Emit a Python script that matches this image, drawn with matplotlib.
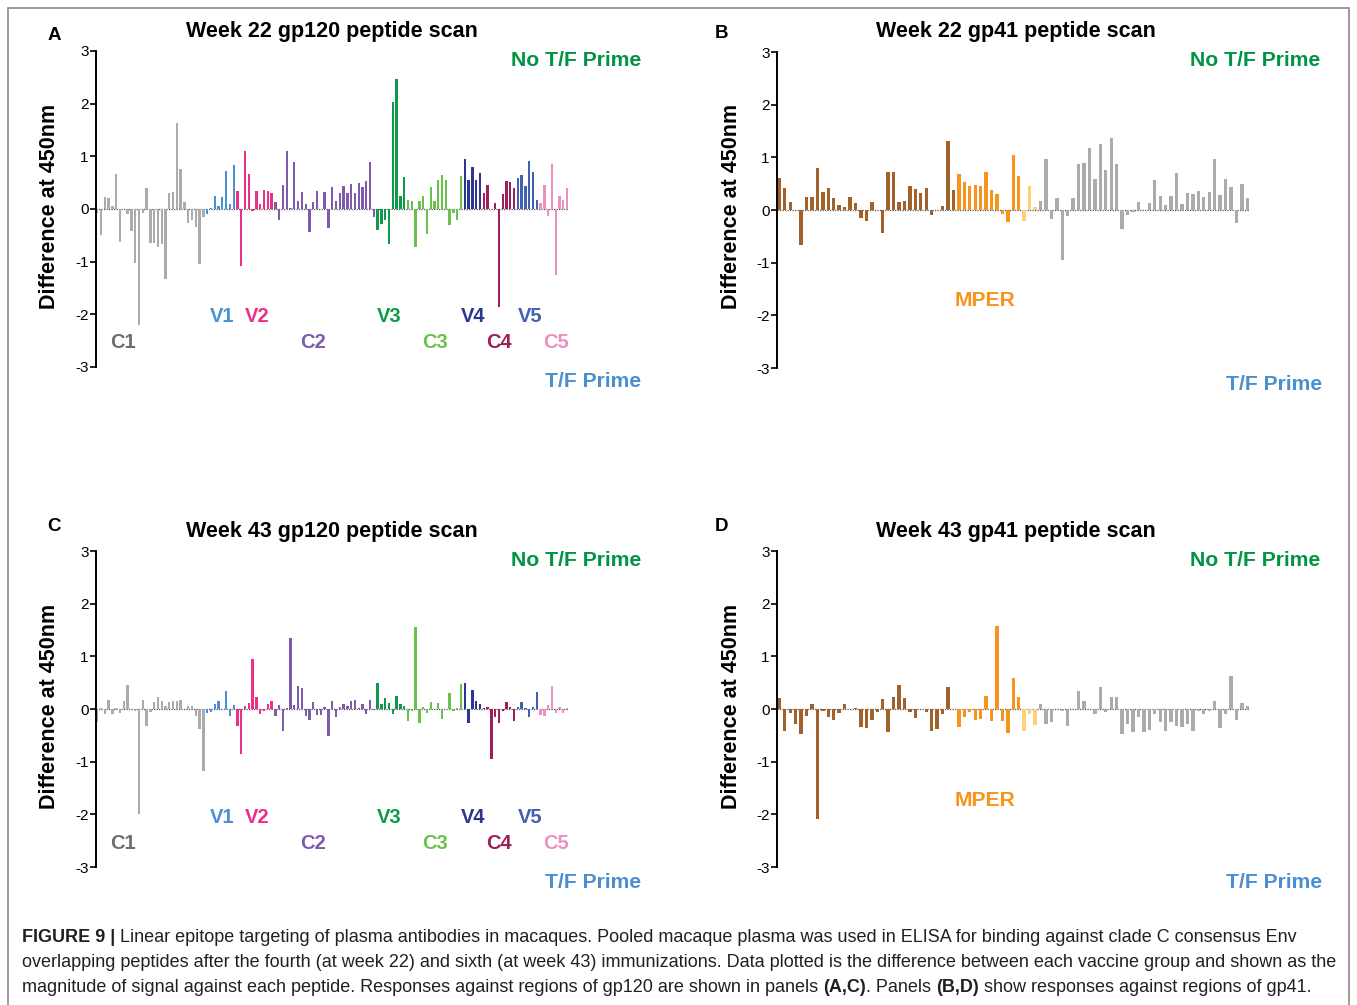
import matplotlib
matplotlib.use("Agg")
import matplotlib.pyplot as plt
from matplotlib.patches import Rectangle

plt.rcParams['font.family'] = ['Liberation Sans', 'DejaVu Sans']
plt.rcParams['axes.unicode_minus'] = False

W, H = 1357, 1005

# ---- data ------------------------------------------------------------------
gp120_regions = ["C1", "V1", "V2", "C2", "V3", "C3", "V4", "C4", "V5", "C5"]
gp120_sizes = [29, 8, 10, 27, 8, 15, 5, 9, 6, 8]
gp120_colors = ["#ababab", "#4a90d9", "#ec2f8b", "#7f5aae", "#0e9a48",
                "#6ac14b", "#2c3590", "#9e1f5a", "#4060b0", "#ee8fc2"]

gp41_sizes = [33, 12, 3, 39]          # N-term, MPER, MPER tail, rest
gp41_colors = ["#a0612a", "#f7941d", "#fdd17a", "#ababab"]

wk22_gp120 = [
    # C1
    -0.08, -0.5, 0.22, 0.2, 0.05, 0.66, -0.63, 0.0, -0.1, -0.41, -1.02, -2.2,
    -0.07, 0.39, -0.65, -0.65, -0.72, -0.66, -1.33, 0.31, 0.32, 1.63, 0.76,
    0.13, -0.26, -0.2, -0.34, -1.05, -0.16,
    # V1
    -0.1, 0.02, 0.25, 0.06, 0.22, 0.72, 0.1, 0.84,
    # V2
    0.35, -1.08, 1.1, 0.66, -0.03, 0.34, 0.1, 0.36, 0.34, 0.3,
    # C2
    0.13, -0.21, 0.46, 1.11, 0.02, 0.89, 0.16, 0.32, 0.1, -0.43, 0.13, 0.35,
    0.0, 0.33, -0.37, 0.41, 0.15, 0.31, 0.44, 0.30, 0.48, 0.30, 0.49, 0.42,
    0.53, 0.9, -0.16,
    # V3
    -0.39, -0.28, -0.2, -0.67, 2.04, 2.46, 0.25, 0.61,
    # C3
    0.17, 0.15, -0.72, 0.16, 0.25, -0.47, 0.42, 0.15, 0.56, 0.64, 0.55, -0.3,
    -0.07, -0.21, 0.63,
    # V4
    0.95, 0.55, 0.8, 0.56, 0.68,
    # C4
    0.3, 0.46, 0.0, 0.12, -1.87, 0.29, 0.53, 0.52, 0.39,
    # V5
    0.58, 0.65, 0.44, 0.92, 0.7, 0.18,
    # C5
    0.12, 0.46, -0.13, 0.86, -1.25, 0.25, 0.17, 0.39,
]

wk43_gp120 = [
    # C1
    -0.25, 0.02, -0.1, 0.18, -0.1, 0.02, -0.08, 0.15, 0.45, 0.0, -0.03, -1.99,
    0.18, -0.33, -0.05, 0.13, 0.22, 0.16, 0.05, 0.13, 0.16, 0.15, 0.18, 0.0,
    0.06, 0.06, -0.14, -0.38, -1.18,
    # V1
    -0.08, -0.06, 0.1, 0.16, -0.02, 0.35, -0.14, 0.08,
    # V2
    -0.33, -0.85, 0.06, 0.11, 0.95, 0.22, -0.1, -0.04, 0.1, 0.16,
    # C2
    -0.14, 0.08, -0.41, 0.02, 1.35, 0.08, 0.44, 0.39, -0.13, -0.2, 0.13, -0.11,
    -0.11, 0.04, -0.51, 0.16, -0.15, 0.03, 0.1, 0.06, 0.15, 0.17, 0.01, 0.1,
    -0.1, 0.18, -0.02,
    # V3
    0.5, 0.1, 0.21, 0.11, -0.1, 0.25, 0.1, 0.06,
    # C3
    -0.23, -0.04, 1.56, -0.27, 0.04, -0.08, 0.13, 0.0, 0.12, -0.19, 0.0, 0.31,
    -0.04, 0.02, 0.47,
    # V4
    0.5, -0.27, 0.36, 0.15, 0.09,
    # C4
    0.02, 0.03, -0.94, -0.16, -0.27, -0.03, 0.13, 0.03, -0.22,
    # V5
    0.04, 0.13, 0.01, -0.15, 0.03, 0.33,
    # C5
    -0.11, -0.13, 0.08, 0.44, -0.08, 0.04, -0.08, 0.02,
]

wk22_gp41 = [
    0.6, 0.41, 0.15, 0.0, -0.67, 0.24, 0.24, 0.8, 0.35, 0.41, 0.22, 0.09,
    0.06, 0.25, 0.14, -0.15, -0.2, 0.15, 0.0, -0.43, 0.73, 0.73, 0.16, 0.18,
    0.45, 0.4, 0.32, 0.41, -0.1, 0.0, 0.08, 1.31, 0.38,
    # MPER
    0.68, 0.53, 0.45, 0.48, 0.46, 0.72, 0.38, 0.31, -0.08, -0.23, 1.04, 0.65,
    -0.2, 0.46, 0.06,
    # rest
    0.18, 0.97, -0.17, 0.23, -0.94, -0.11, 0.23, 0.88, 0.89, 1.18, 0.59, 1.25,
    0.75, 1.36, 0.87, -0.36, -0.09, -0.03, 0.15, 0.0, 0.13, 0.57, 0.26, 0.09,
    0.27, 0.70, 0.11, 0.33, 0.31, 0.37, 0.25, 0.34, 0.96, 0.28, 0.59, 0.43,
    -0.24, 0.49, 0.22,
]

wk43_gp41 = [
    0.2, -0.41, -0.08, -0.28, -0.47, -0.13, 0.1, -2.08, -0.03, -0.15, -0.2,
    -0.08, 0.09, 0.0, 0.01, -0.34, -0.37, -0.2, -0.06, 0.19, -0.44, 0.23, 0.46,
    0.2, -0.06, -0.18, 0.0, -0.06, -0.41, -0.38, -0.1, 0.41, 0.0,
    # MPER
    -0.35, -0.15, -0.06, -0.2, -0.19, 0.25, -0.22, 1.58, -0.22, -0.46, 0.58,
    0.22, -0.42, -0.1, -0.3,
    # rest
    0.1, -0.28, -0.25, 0.0, -0.04, -0.32, 0.0, 0.34, 0.16, 0.0, -0.1, 0.42,
    -0.06, 0.23, 0.22, -0.47, -0.28, -0.44, -0.15, -0.43, -0.39, -0.1, -0.25,
    -0.41, -0.25, -0.33, -0.35, -0.28, -0.41, -0.04, -0.09, -0.04, 0.15,
    -0.36, -0.1, 0.63, -0.2, 0.11, 0.06,
]

TITLE_FS = 15.5
LAB_FS = 15.2
GREEN = "#009444"
TF_BLUE = "#4a90d0"


def fx(px):
    return px / W


def fy(py):
    return 1 - py / H


fig = plt.figure(figsize=(W / 100, H / 100), dpi=100)


def panel(left, top, right, bottom, values, sizes, colors, xpad):
    ax = fig.add_axes([fx(left), fy(bottom), (right - left) / W, (bottom - top) / H])
    cols = [c for c, n in zip(colors, sizes) for _ in range(n)]
    ax.bar(range(len(values)), values, width=0.62, color=cols, linewidth=0, zorder=2)
    ax.axhline(0, color="#555555", lw=0.9, ls=(0, (1, 1)), zorder=1)
    ax.set_xlim(-xpad, len(values) - 0.5)
    ax.set_ylim(-3, 3)
    ax.set_yticks([-3, -2, -1, 0, 1, 2, 3])
    ax.set_xticks([])
    for s in ("top", "right", "bottom"):
        ax.spines[s].set_visible(False)
    ax.spines["left"].set_linewidth(1.4)
    ax.tick_params(axis="y", direction="out", length=4, width=1.2, labelsize=11, pad=1)
    ax.patch.set_alpha(0)
    return ax


panel(95.7, 51, 569, 367, wk22_gp120, gp120_sizes, gp120_colors, 0.42)
panel(776.7, 52, 1250, 368, wk22_gp41, gp41_sizes, gp41_colors, 0.48)
panel(95.7, 551, 569, 867, wk43_gp120, gp120_sizes, gp120_colors, 0.42)
panel(776.7, 551, 1250, 867, wk43_gp41, gp41_sizes, gp41_colors, 0.48)

# ---- panel texts --------------------------------------------------------------
def ftext(x, y, s, **kw):
    kw.setdefault("ha", "center")
    kw.setdefault("va", "center")
    return fig.text(fx(x), fy(y), s, **kw)


for letter, (x, y) in zip("ABCD", [(54, 36), (722, 33), (54, 526), (722, 526)]):
    ftext(x, y, letter, fontsize=13.5, fontweight="bold")

titles = ["Week 22 gp120 peptide scan", "Week 22 gp41 peptide scan",
          "Week 43 gp120 peptide scan", "Week 43 gp41 peptide scan"]
for t, (x, y) in zip(titles, [(332, 31), (1016, 31), (332, 531), (1016, 531)]):
    ftext(x, y, t, fontsize=TITLE_FS, fontweight="bold")

for x, y in [(50, 206), (731, 206), (50, 706), (731, 706)]:
    ftext(x, y, "Difference at 450nm", fontsize=TITLE_FS, fontweight="bold", rotation=90)

for x, y in [(641, 60), (1320, 61), (641, 560), (1320, 560)]:
    ftext(x, y, "No T/F Prime", fontsize=LAB_FS, fontweight="bold", color=GREEN, ha="right")
for x, y in [(641, 381), (1322, 385), (641, 882), (1322, 882)]:
    ftext(x, y, "T/F Prime", fontsize=LAB_FS, fontweight="bold", color=TF_BLUE, ha="right")

label_x = {"C1": 123, "V1": 222, "V2": 257, "C2": 313, "V3": 389,
           "C3": 435, "V4": 473, "C4": 499, "V5": 530, "C5": 556}
for dy in (0, 500):
    for name, col in zip(gp120_regions, gp120_colors):
        y = (317 if name.startswith("V") else 343) + dy
        c = "#6d6e71" if name == "C1" else col
        ftext(label_x[name], y, name, fontsize=14.5, fontweight="bold", color=c)
    ftext(985, 300 + dy, "MPER", fontsize=LAB_FS, fontweight="bold", color=gp41_colors[1])

# ---- frame and caption -------------------------------------------------------
fig.patches.append(Rectangle((fx(8), fy(1012)), (1349 - 8) / W, (1012 - 8) / H,
                             fill=False, ec="#8a8a8a", lw=1.2, transform=fig.transFigure))

CAP_FS = 12.95
renderer = fig.canvas.get_renderer()
space_px = 0.278 * CAP_FS * 100 / 72


def rich_line(y, parts):
    x = 22
    for txt, bold, gap in parts:
        if gap:
            x += space_px
        t = fig.text(fx(x), fy(y), txt, fontsize=CAP_FS, va="center", ha="left",
                     fontweight="bold" if bold else "normal", color="#231f20")
        x = t.get_window_extent(renderer).x1


rich_line(937, [("FIGURE 9 |", True, False),
                ("Linear epitope targeting of plasma antibodies in macaques. Pooled macaque "
                 "plasma was used in ELISA for binding against clade C consensus Env", False, True)])
rich_line(962, [("overlapping peptides after the fourth (at week 22) and sixth (at week 43) "
                 "immunizations. Data plotted is the difference between each vaccine group "
                 "and shown as the", False, False)])
rich_line(987, [("magnitude of signal against each peptide. Responses against regions of gp120 "
                 "are shown in panels", False, False),
                ("(A,C)", True, True), (". Panels", False, False), ("(B,D)", True, True),
                ("show responses against regions of gp41.", False, True)])

fig.savefig("out.png", dpi=100)
